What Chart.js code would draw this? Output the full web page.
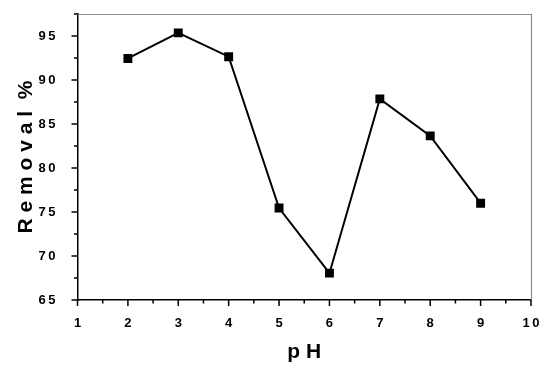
<!DOCTYPE html>
<html>
<head>
<meta charset="utf-8">
<script src="https://cdn.jsdelivr.net/npm/chart.js@4/dist/chart.umd.min.js"></script>
<style>
  html, body { margin: 0; padding: 0; background: #fff; }
  #wrap { width: 550px; height: 369px; position: relative; }
</style>
</head>
<body>
<div id="wrap"><canvas id="chart"></canvas></div>
<script>
// values
var phValues = [2, 3, 4, 5, 6, 7, 8, 9]
var removal = [92.45, 95.35, 92.65, 75.45, 68.05, 87.85, 83.65, 76.0]
var xTicks = [1, 2, 3, 4, 5, 6, 7, 8, 9, 10]
var yTicks = [65, 70, 75, 80, 85, 90, 95]

var fontFamily = "'Liberation Sans', Arial, sans-serif"

function spaced(v) {
    return String(v).split('').join('\u2009')
}

// draws tick marks (major + minor) and the grey top/right frame
var frameTicks = {
    id: 'frameTicks',
    afterDraw: function (chart) {
        var ctx = chart.ctx
        var area = chart.chartArea
        var xs = chart.scales.x
        var ys = chart.scales.y
        ctx.save()

        ctx.strokeStyle = '#8c8c8c'
        ctx.lineWidth = 1.2
        ctx.beginPath()
        ctx.moveTo(area.left, area.top + 0.5)
        ctx.lineTo(area.right + 0.5, area.top + 0.5)
        ctx.lineTo(area.right + 0.5, area.bottom)
        ctx.stroke()

        ctx.strokeStyle = '#000'
        ctx.lineWidth = 1.5
        ctx.beginPath()
        for (var v = 1; v <= 10; v += 0.5) {
            var px = xs.getPixelForValue(v)
            var len = (v % 1 == 0) ? 6 : 3.5
            ctx.moveTo(px, area.bottom)
            ctx.lineTo(px, area.bottom + len)
        }
        for (var w = 65; w <= 97.5; w += 2.5) {
            var py = ys.getPixelForValue(w)
            var l = (w % 5 == 0) ? 6 : 3.5
            ctx.moveTo(area.left, py)
            ctx.lineTo(area.left - l, py)
        }
        ctx.stroke()
        ctx.restore()
    }
}

var ctx = document.getElementById("chart").getContext('2d')
var chart = new Chart(ctx, {
    type: 'line',
    data: {
        datasets: [{
            data: phValues.map(function (p, i) { return { x: p, y: removal[i] } }),
            borderColor: '#000',
            borderWidth: 2,
            backgroundColor: '#000',
            pointStyle: 'rect',
            pointRadius: 6.3,
            pointBorderWidth: 0,
            pointBackgroundColor: '#000',
            tension: 0
        }]
    },
    options: {
        responsive: true,
        maintainAspectRatio: false,
        animation: false,
        layout: { padding: { top: 14, right: 19, left: 0, bottom: 0 } },
        plugins: { legend: { display: false }, tooltip: { enabled: false } },
        scales: {
            x: {
                type: 'linear',
                min: 1,
                max: 10,
                afterBuildTicks: function (scale) {
                    scale.ticks = xTicks.map(function (v) { return { value: v } })
                },
                afterFit: function (scale) { scale.height = 69 },
                grid: { display: false },
                border: { display: true, color: '#000', width: 1.5 },
                ticks: {
                    color: '#000',
                    padding: 8,
                    maxRotation: 0,
                    font: { family: fontFamily, size: 13, weight: 'bold' },
                    callback: function (v) { return spaced(v) }
                },
                title: {
                    display: true,
                    text: 'p H',
                    color: '#000',
                    padding: { top: 0 },
                    font: { family: fontFamily, size: 21, weight: 'bold' }
                }
            },
            y: {
                min: 65,
                max: 97.5,
                afterBuildTicks: function (scale) {
                    scale.ticks = yTicks.map(function (v) { return { value: v } })
                },
                afterFit: function (scale) {
                    scale.width = 77.5
                    scale.paddingTop = 0
                    scale.paddingBottom = 0
                },
                grid: { display: false },
                border: { display: true, color: '#000', width: 1.5 },
                ticks: {
                    color: '#000',
                    padding: 14,
                    font: { family: fontFamily, size: 13, weight: 'bold' },
                    callback: function (v) { return spaced(v) }
                },
                title: {
                    display: true,
                    text: 'R e m o v a l  %',
                    color: '#000',
                    padding: { top: 14 },
                    font: { family: fontFamily, size: 21, weight: 'bold' }
                }
            }
        }
    },
    plugins: [frameTicks]
})
</script>
</body>
</html>
